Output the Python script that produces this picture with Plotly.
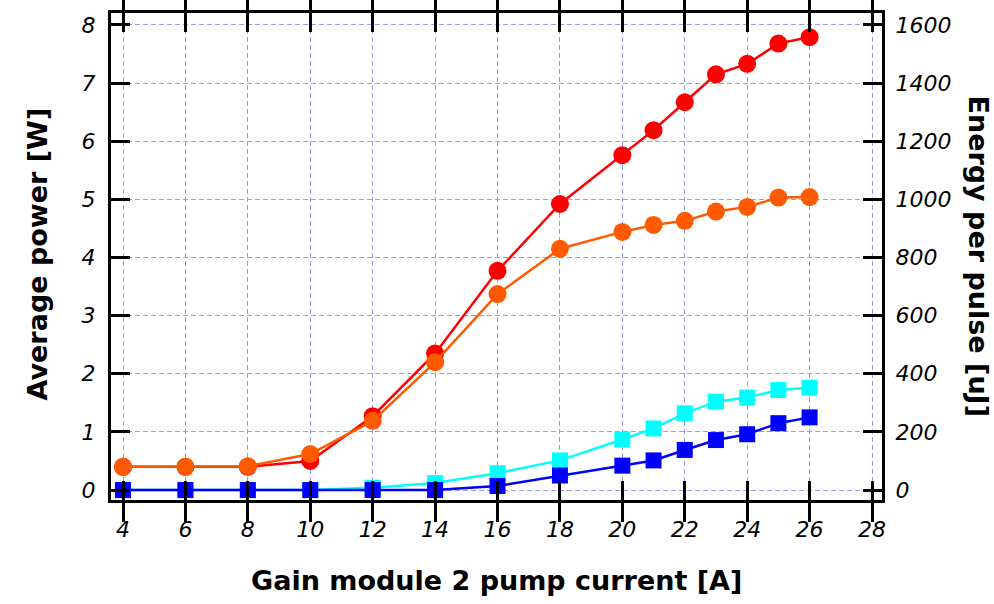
import plotly.graph_objects as go

# Pump current [A]
current = [4, 6, 8, 10, 12, 14, 16, 18, 20, 21, 22, 23, 24, 25, 26]

# Average power [W] (left axis)
red_power = [0.40, 0.40, 0.40, 0.50, 1.27, 2.35, 3.77, 4.92, 5.76, 6.19, 6.67, 7.15, 7.33, 7.68, 7.79]
orange_power = [0.40, 0.40, 0.41, 0.62, 1.19, 2.20, 3.37, 4.15, 4.44, 4.56, 4.63, 4.79, 4.87, 5.03, 5.04]

# Energy per pulse [uJ] (right axis)
cyan_energy = [0, 0, 0, 0, 8, 24, 58, 102, 174, 212, 264, 304, 318, 344, 352]
blue_energy = [0, 0, 0, 0, 0, 0, 14, 50, 84, 102, 138, 172, 192, 230, 250]

x_ticks = list(range(4, 29, 2))
y_ticks = list(range(0, 9))
y2_ticks = list(range(0, 1601, 200))

RED = "#ff0000"
ORANGE = "#ff5a00"
CYAN = "#00ffff"
BLUE = "#0000ff"
GRID = "rgb(150,150,255)"

fig = go.Figure()
fig.add_trace(go.Scatter(x=current, y=red_power, mode="lines+markers",
                         line=dict(color=RED, width=2.5),
                         marker=dict(symbol="circle", size=18, color=RED), yaxis="y"))
fig.add_trace(go.Scatter(x=current, y=orange_power, mode="lines+markers",
                         line=dict(color=ORANGE, width=2.5),
                         marker=dict(symbol="circle", size=18, color=ORANGE), yaxis="y"))
fig.add_trace(go.Scatter(x=current, y=cyan_energy, mode="lines+markers",
                         line=dict(color=CYAN, width=2.5),
                         marker=dict(symbol="square", size=16, color=CYAN), yaxis="y2"))
fig.add_trace(go.Scatter(x=current, y=blue_energy, mode="lines+markers",
                         line=dict(color=BLUE, width=2.5),
                         marker=dict(symbol="square", size=16, color=BLUE), yaxis="y2"))

tickfont = dict(family="DejaVu Sans", size=22, color="black", style="italic")
titlefont = dict(family="DejaVu Sans", size=27, color="black", weight="bold")

common = dict(showline=True, linecolor="black", linewidth=3,
              ticks="inside", ticklen=19, tickwidth=3, tickcolor="black",
              showgrid=True, gridcolor=GRID, gridwidth=1, griddash="5px,3px",
              zeroline=False, tickfont=tickfont)

fig.update_layout(
    width=994, height=604,
    margin=dict(l=111, r=112, t=10, b=104),
    plot_bgcolor="white", paper_bgcolor="white",
    showlegend=False,
    xaxis=dict(range=[3.615, 28.32], tickvals=x_ticks, mirror="allticks",
               ticklabelstandoff=8, **common),
    yaxis=dict(range=[-0.171, 8.205], tickvals=y_ticks, mirror="allticks",
               ticklabelstandoff=8, **common),
    yaxis2=dict(range=[-34.2, 1641], tickvals=y2_ticks, overlaying="y", side="right",
                ticklabelstandoff=6,
                **{**common, "showgrid": False}),
    annotations=[
        dict(text="Gain module 2 pump current [A]", xref="paper", yref="paper",
             x=0.5, y=0, xanchor="center", yanchor="middle", yshift=-80,
             showarrow=False, font=titlefont),
        dict(text="Average power [W]", xref="paper", yref="paper",
             x=0, y=0.5, xanchor="center", yanchor="middle", xshift=-74, yshift=2,
             textangle=-90, showarrow=False, font=titlefont),
        dict(text="Energy per pulse [uJ]", xref="paper", yref="paper",
             x=1, y=0.5, xanchor="center", yanchor="middle", xshift=96, yshift=0,
             textangle=90, showarrow=False, font=titlefont),
    ],
)

fig.write_html("out.html")
